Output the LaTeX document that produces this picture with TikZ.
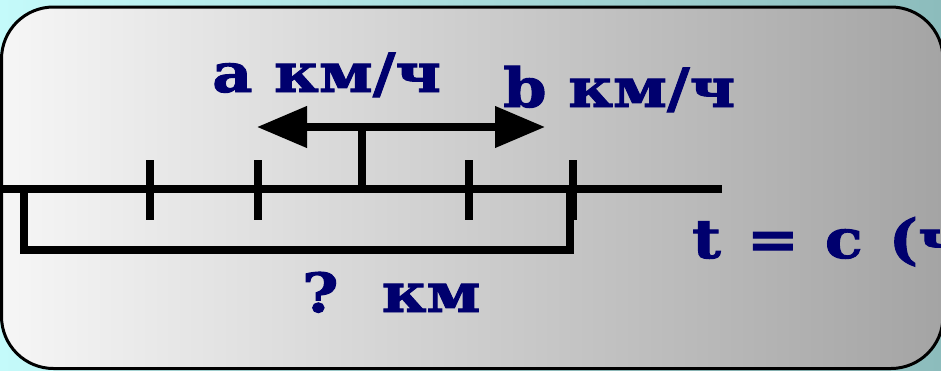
\documentclass[tikz,border=0pt]{standalone}
\usepackage{fontspec}
\setmainfont{DejaVu Serif}
\newfontfamily\lblfont[FakeStretch=1.15,FakeBold=1.8]{DejaVu Serif}
\usetikzlibrary{arrows.meta}
\definecolor{bgl}{RGB}{196,250,250}
\definecolor{bgr}{RGB}{140,188,188}
\definecolor{boxl}{RGB}{246,246,246}
\definecolor{boxr}{RGB}{164,164,164}
\definecolor{navy}{RGB}{0,0,110}
\tikzset{
  lbl/.style={inner sep=0pt, anchor=base west, text=navy, font=\lblfont\bfseries\fontsize{54}{60}\selectfont},
  thick line/.style={line width=8pt, draw=black},
  tickmark/.style={line width=7.5pt, draw=black},
  speed arrow/.style={line width=7.5pt, draw=black, -{Triangle[length=50pt,width=40pt]}}
}
\begin{document}
\begin{tikzpicture}[x=1pt,y=-1pt]
\useasboundingbox (0,0) rectangle (941,370);
\shade[left color=bgl, right color=bgr] (0,0) rectangle (941,370);
\begin{scope}
\clip (0,0) rectangle (941,370);
\shade[left color=boxl, right color=boxr] (1.5,7) [rounded corners=52pt] rectangle (943,368.5);
\draw[line width=3pt, rounded corners=52pt] (1.5,7) rectangle (943,368.5);
\node[lbl] (t) at (692,258) {\spaceskip=26pt t = c (ч};
\end{scope}
% labels
\node[lbl] (va) at (212,92) {a км/ч};
\node[lbl] (vb) at (503,107) {b км/ч};
\node[lbl] (d) at (302,312) {\spaceskip=36pt ? км};
% main line
\coordinate (L) at (0,189);
\coordinate (R) at (722,189);
\draw[thick line] (L) -- (R);
% ticks
\foreach \n/\x in {t1/150,t2/258,t3/469,t4/573}{
  \coordinate (\n top) at (\x,160);
  \coordinate (\n bot) at (\x,220);
  \draw[tickmark] (\n top) -- (\n bot);
}
% bracket
\coordinate (b1) at (24,186);
\coordinate (b2) at (24,250);
\coordinate (b3) at (570,250);
\coordinate (b4) at (570,186);
\draw[tickmark, line join=miter] (b1) -- (b2) -- (b3) -- (b4);
% stem and arrows
\coordinate (stemtop) at (362,127);
\coordinate (stembot) at (362,189);
\coordinate (aleft) at (257,127);
\coordinate (aright) at (545,127);
\draw[tickmark] (stembot) -- ([yshift=-3.5pt]stemtop);
\draw[speed arrow] (stemtop) -- (aleft);
\draw[speed arrow] (stemtop) -- (aright);
\end{tikzpicture}
\end{document}
